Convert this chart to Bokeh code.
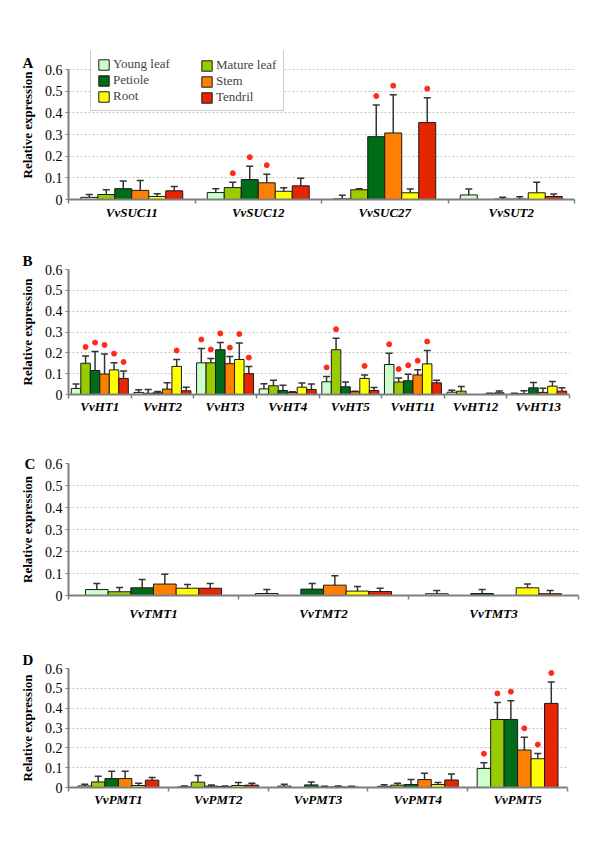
from bokeh.plotting import figure
from bokeh.models import (Range1d, FixedTicker, Whisker, TeeHead, ColumnDataSource,
                          Legend, LegendItem)
from bokeh.layouts import column
from bokeh.embed import file_html
from bokeh.resources import INLINE

TISSUES = ["Young leaf", "Mature leaf", "Petiole", "Stem", "Root", "Tendril"]
COLORS = ["#CCFFCC", "#99CC00", "#006C1A", "#FF8000", "#FFFF00", "#E62600"]
Y_TICKS = [0, 0.1, 0.2, 0.3, 0.4, 0.5, 0.6]
Y_TICK_LABELS = ["0", "0.1", "0.2", "0.3", "0.4", "0.5", "0.6"]

# ---------------- Panel A ----------------
A_GENES = ["VvSUC11", "VvSUC12", "VvSUC27", "VvSUT2"]
A_YOUNG = [0.010, 0.032, 0.003, 0.021]
A_YOUNG_SD = [0.013, 0.018, 0.017, 0.027]
A_MATURE = [0.023, 0.055, 0.045, 0.0]
A_MATURE_SD = [0.022, 0.025, 0.005, 0.0]
A_PETIOLE = [0.050, 0.092, 0.290, 0.002]
A_PETIOLE_SD = [0.035, 0.062, 0.146, 0.008]
A_STEM = [0.042, 0.077, 0.307, 0.002]
A_STEM_SD = [0.046, 0.040, 0.177, 0.011]
A_ROOT = [0.014, 0.038, 0.031, 0.031]
A_ROOT_SD = [0.012, 0.016, 0.018, 0.049]
A_TENDRIL = [0.040, 0.063, 0.355, 0.014]
A_TENDRIL_SD = [0.020, 0.035, 0.115, 0.011]
A_SIG = [("VvSUC12", "Mature leaf"), ("VvSUC12", "Petiole"), ("VvSUC12", "Stem"),
         ("VvSUC27", "Petiole"), ("VvSUC27", "Stem"), ("VvSUC27", "Tendril")]

# ---------------- Panel B ----------------
B_GENES = ["VvHT1", "VvHT2", "VvHT3", "VvHT4", "VvHT5", "VvHT11", "VvHT12", "VvHT13"]
B_YOUNG = [0.029, 0.010, 0.152, 0.027, 0.061, 0.144, 0.011, 0.002]
B_YOUNG_SD = [0.021, 0.013, 0.069, 0.025, 0.026, 0.054, 0.010, 0.004]
B_MATURE = [0.150, 0.006, 0.152, 0.042, 0.215, 0.060, 0.016, 0.004]
B_MATURE_SD = [0.035, 0.018, 0.021, 0.026, 0.055, 0.019, 0.023, 0.014]
B_PETIOLE = [0.115, 0.008, 0.215, 0.019, 0.037, 0.066, 0.0, 0.032]
B_PETIOLE_SD = [0.091, 0.007, 0.035, 0.026, 0.023, 0.031, 0.0, 0.026]
B_STEM = [0.098, 0.026, 0.148, 0.010, 0.013, 0.094, 0.0, 0.010]
B_STEM_SD = [0.097, 0.030, 0.034, 0.003, 0.003, 0.025, 0.0, 0.020]
B_ROOT = [0.118, 0.135, 0.168, 0.035, 0.077, 0.147, 0.003, 0.040]
B_ROOT_SD = [0.035, 0.033, 0.079, 0.020, 0.017, 0.064, 0.003, 0.023]
B_TENDRIL = [0.077, 0.018, 0.100, 0.024, 0.019, 0.056, 0.008, 0.016]
B_TENDRIL_SD = [0.036, 0.017, 0.034, 0.026, 0.015, 0.013, 0.009, 0.016]
B_SIG = [("VvHT1", "Mature leaf"), ("VvHT1", "Petiole"), ("VvHT1", "Stem"),
         ("VvHT1", "Root"), ("VvHT1", "Tendril"), ("VvHT2", "Root"),
         ("VvHT3", "Young leaf"), ("VvHT3", "Mature leaf"), ("VvHT3", "Petiole"),
         ("VvHT3", "Stem"), ("VvHT3", "Root"), ("VvHT3", "Tendril"),
         ("VvHT5", "Young leaf"), ("VvHT5", "Mature leaf"), ("VvHT5", "Root"),
         ("VvHT11", "Young leaf"), ("VvHT11", "Mature leaf"), ("VvHT11", "Petiole"),
         ("VvHT11", "Stem"), ("VvHT11", "Root")]

# ---------------- Panel C ----------------
C_GENES = ["VvTMT1", "VvTMT2", "VvTMT3"]
C_YOUNG = [0.027, 0.009, 0.008]
C_YOUNG_SD = [0.028, 0.018, 0.015]
C_MATURE = [0.017, 0.0, 0.0]
C_MATURE_SD = [0.019, 0.0, 0.0]
C_PETIOLE = [0.035, 0.029, 0.009]
C_PETIOLE_SD = [0.038, 0.026, 0.018]
C_STEM = [0.052, 0.047, 0.0]
C_STEM_SD = [0.045, 0.043, 0.0]
C_ROOT = [0.033, 0.020, 0.035]
C_ROOT_SD = [0.017, 0.021, 0.017]
C_TENDRIL = [0.033, 0.018, 0.008]
C_TENDRIL_SD = [0.022, 0.015, 0.015]
C_SIG = []

# ---------------- Panel D ----------------
D_GENES = ["VvPMT1", "VvPMT2", "VvPMT3", "VvPMT4", "VvPMT5"]
D_YOUNG = [0.008, 0.003, 0.007, 0.006, 0.096]
D_YOUNG_SD = [0.009, 0.004, 0.010, 0.008, 0.029]
D_MATURE = [0.028, 0.027, 0.0, 0.012, 0.343]
D_MATURE_SD = [0.029, 0.033, 0.0, 0.010, 0.086]
D_PETIOLE = [0.045, 0.007, 0.013, 0.015, 0.343]
D_PETIOLE_SD = [0.037, 0.006, 0.015, 0.025, 0.095]
D_STEM = [0.045, 0.005, 0.002, 0.040, 0.189]
D_STEM_SD = [0.037, 0.003, 0.004, 0.032, 0.064]
D_ROOT = [0.010, 0.010, 0.003, 0.015, 0.145]
D_ROOT_SD = [0.012, 0.015, 0.004, 0.010, 0.026]
D_TENDRIL = [0.037, 0.012, 0.002, 0.038, 0.424]
D_TENDRIL_SD = [0.013, 0.010, 0.004, 0.030, 0.108]
D_SIG = [("VvPMT5", t) for t in TISSUES]

SERIF = "'Liberation Serif', 'Times New Roman', serif"
AXIS_FONT = "serif"
PAGE_W = 600


def build_panel(letter, genes, means, sds, sig, frame_left, frame_top, frame_w, frame_h,
                top_extra, bottom_border, frac, x_standoff, letter_standoff, legend=False):
    n = len(genes)
    # top_extra: frame pixels above the 0.6 line (used only to host the legend)
    y_end = 0.6 * (frame_h + top_extra) / frame_h
    p = figure(frame_width=frame_w, frame_height=frame_h + top_extra,
               x_range=Range1d(0, 2 * n), y_range=Range1d(0, y_end),
               output_backend="svg", toolbar_location=None,
               min_border_left=frame_left,
               min_border_right=PAGE_W - (frame_left + frame_w),
               min_border_top=frame_top - top_extra, min_border_bottom=bottom_border,
               outline_line_color=None,
               background_fill_color="white", border_fill_color="white")
    bw = 2 * frac / 6
    pad = (2 - 6 * bw) / 2
    star_dy = 9 * 0.6 / frame_h
    renderers = []
    for j, tissue in enumerate(TISSUES):
        xs, tops, ups, sx, sy = [], [], [], [], []
        for i, g in enumerate(genes):
            m = means[j][i]
            s = sds[j][i]
            if m == 0 and s == 0:
                continue
            x = 2 * i + pad + (j + 0.5) * bw
            xs.append(x)
            tops.append(m)
            ups.append(m + s)
            if (g, tissue) in sig:
                sx.append(x)
                sy.append(m + s + star_dy)
        src = ColumnDataSource(dict(x=xs, top=tops, up=ups))
        r = p.vbar(x="x", top="top", bottom=0, width=bw, source=src,
                   fill_color=COLORS[j], line_color="#1a1a1a", line_width=1)
        renderers.append(r)
        w = Whisker(base="x", lower="top", upper="up", source=src, dimension="height",
                    line_color="#333333", line_width=1.5, lower_head=None,
                    upper_head=TeeHead(size=7, line_color="#333333", line_width=1.5))
        p.add_layout(w)
        if sx:
            p.scatter(sx, sy, size=5, marker="circle", color="#FF2A1A")

    # y axis
    yt = FixedTicker(ticks=Y_TICKS)
    p.yaxis.ticker = yt
    p.ygrid.ticker = yt
    p.yaxis.bounds = (0, 0.6)
    p.yaxis.major_label_overrides = {t: l for t, l in zip(Y_TICKS, Y_TICK_LABELS)}
    p.yaxis.major_label_text_font = AXIS_FONT
    p.yaxis.major_label_text_font_size = "14px"
    p.yaxis.major_label_text_color = "black"
    p.yaxis.major_label_standoff = 3
    p.yaxis.major_tick_out = 3
    p.yaxis.major_tick_in = 0
    p.yaxis.minor_tick_line_color = None
    p.yaxis.major_tick_line_color = "#7f7f7f"
    p.yaxis.axis_line_color = "#7f7f7f"
    p.yaxis.axis_line_width = 2
    p.yaxis.axis_label = "Relative expression"
    p.yaxis.axis_label_text_font = AXIS_FONT
    p.yaxis.axis_label_text_font_style = "bold"
    p.yaxis.axis_label_text_font_size = "13px"
    p.yaxis.axis_label_text_color = "black"
    p.yaxis.axis_label_standoff = 7

    # x axis
    centers = [2 * i + 1 for i in range(n)]
    bounds = [2 * i for i in range(n + 1)]
    p.xaxis.ticker = FixedTicker(ticks=centers, minor_ticks=bounds)
    p.xaxis.major_label_overrides = {c: g for c, g in zip(centers, genes)}
    p.xaxis.major_tick_line_color = None
    p.xaxis.major_tick_out = 0
    p.xaxis.major_tick_in = 0
    p.xaxis.minor_tick_out = 4
    p.xaxis.minor_tick_in = 0
    p.xaxis.minor_tick_line_color = "#7f7f7f"
    p.xaxis.minor_tick_line_width = 1.5
    p.xaxis.axis_line_color = "#7f7f7f"
    p.xaxis.axis_line_width = 2
    p.xaxis.major_label_text_font = AXIS_FONT
    p.xaxis.major_label_text_font_style = "bold italic"
    p.xaxis.major_label_text_font_size = "13px"
    p.xaxis.major_label_text_color = "black"
    p.xaxis.major_label_standoff = x_standoff

    p.xgrid.visible = False
    p.ygrid.grid_line_color = "#c4c4c4"
    p.ygrid.grid_line_dash = "2 2"
    p.ygrid.grid_line_width = 1

    # panel letter as the figure title, pushed to the left of the y axis
    p.title.text = letter
    p.title.align = "left"
    p.title.vertical_align = "bottom"
    p.title.offset = 22 - frame_left
    p.title.standoff = letter_standoff
    p.title.text_font = SERIF
    p.title.text_font_style = "bold"
    p.title.text_font_size = "15px"
    p.title.text_color = "black"

    if legend:
        common = dict(label_text_font=SERIF, label_text_font_size="13px",
                      glyph_width=13, glyph_height=13, label_standoff=3,
                      label_height=15, padding=6, spacing=0, margin=0,
                      border_line_width=1)
        leg1 = Legend(items=[LegendItem(label=TISSUES[j], renderers=[renderers[j]]) for j in (0, 2, 4)],
                      location=(90 - frame_left, 88), label_width=164,
                      border_line_color="#9a9a9a",
                      background_fill_color="white", background_fill_alpha=1.0, **common)
        leg2 = Legend(items=[LegendItem(label=TISSUES[j], renderers=[renderers[j]]) for j in (1, 3, 5)],
                      location=(194 - frame_left, 88), label_width=60,
                      border_line_color="#9a9a9a", border_line_alpha=0.0,
                      background_fill_alpha=0.0, **common)
        p.add_layout(leg1)
        p.add_layout(leg2)
    return p


pA = build_panel("A", A_GENES,
                 [A_YOUNG, A_MATURE, A_PETIOLE, A_STEM, A_ROOT, A_TENDRIL],
                 [A_YOUNG_SD, A_MATURE_SD, A_PETIOLE_SD, A_STEM_SD, A_ROOT_SD, A_TENDRIL_SD],
                 A_SIG, frame_left=68, frame_top=69, frame_w=506, frame_h=130, top_extra=19,
                 bottom_border=31, frac=0.806, x_standoff=1, letter_standoff=-40,
                 legend=True)
pB = build_panel("B", B_GENES,
                 [B_YOUNG, B_MATURE, B_PETIOLE, B_STEM, B_ROOT, B_TENDRIL],
                 [B_YOUNG_SD, B_MATURE_SD, B_PETIOLE_SD, B_STEM_SD, B_ROOT_SD, B_TENDRIL_SD],
                 B_SIG, frame_left=68, frame_top=39, frame_w=501, frame_h=125, top_extra=0,
                 bottom_border=36, frac=0.91, x_standoff=0, letter_standoff=2)
pC = build_panel("C", C_GENES,
                 [C_YOUNG, C_MATURE, C_PETIOLE, C_STEM, C_ROOT, C_TENDRIL],
                 [C_YOUNG_SD, C_MATURE_SD, C_PETIOLE_SD, C_STEM_SD, C_ROOT_SD, C_TENDRIL_SD],
                 C_SIG, frame_left=66, frame_top=33, frame_w=510, frame_h=132, top_extra=0,
                 bottom_border=35, frac=0.80, x_standoff=6, letter_standoff=-16)
pD = build_panel("D", D_GENES,
                 [D_YOUNG, D_MATURE, D_PETIOLE, D_STEM, D_ROOT, D_TENDRIL],
                 [D_YOUNG_SD, D_MATURE_SD, D_PETIOLE_SD, D_STEM_SD, D_ROOT_SD, D_TENDRIL_SD],
                 D_SIG, frame_left=68, frame_top=38, frame_w=499, frame_h=119, top_extra=0,
                 bottom_border=50, frac=0.81, x_standoff=0, letter_standoff=2)

layout = column(pA, pB, pC, pD, spacing=0)
open("out.html", "w").write(file_html(layout, INLINE))
